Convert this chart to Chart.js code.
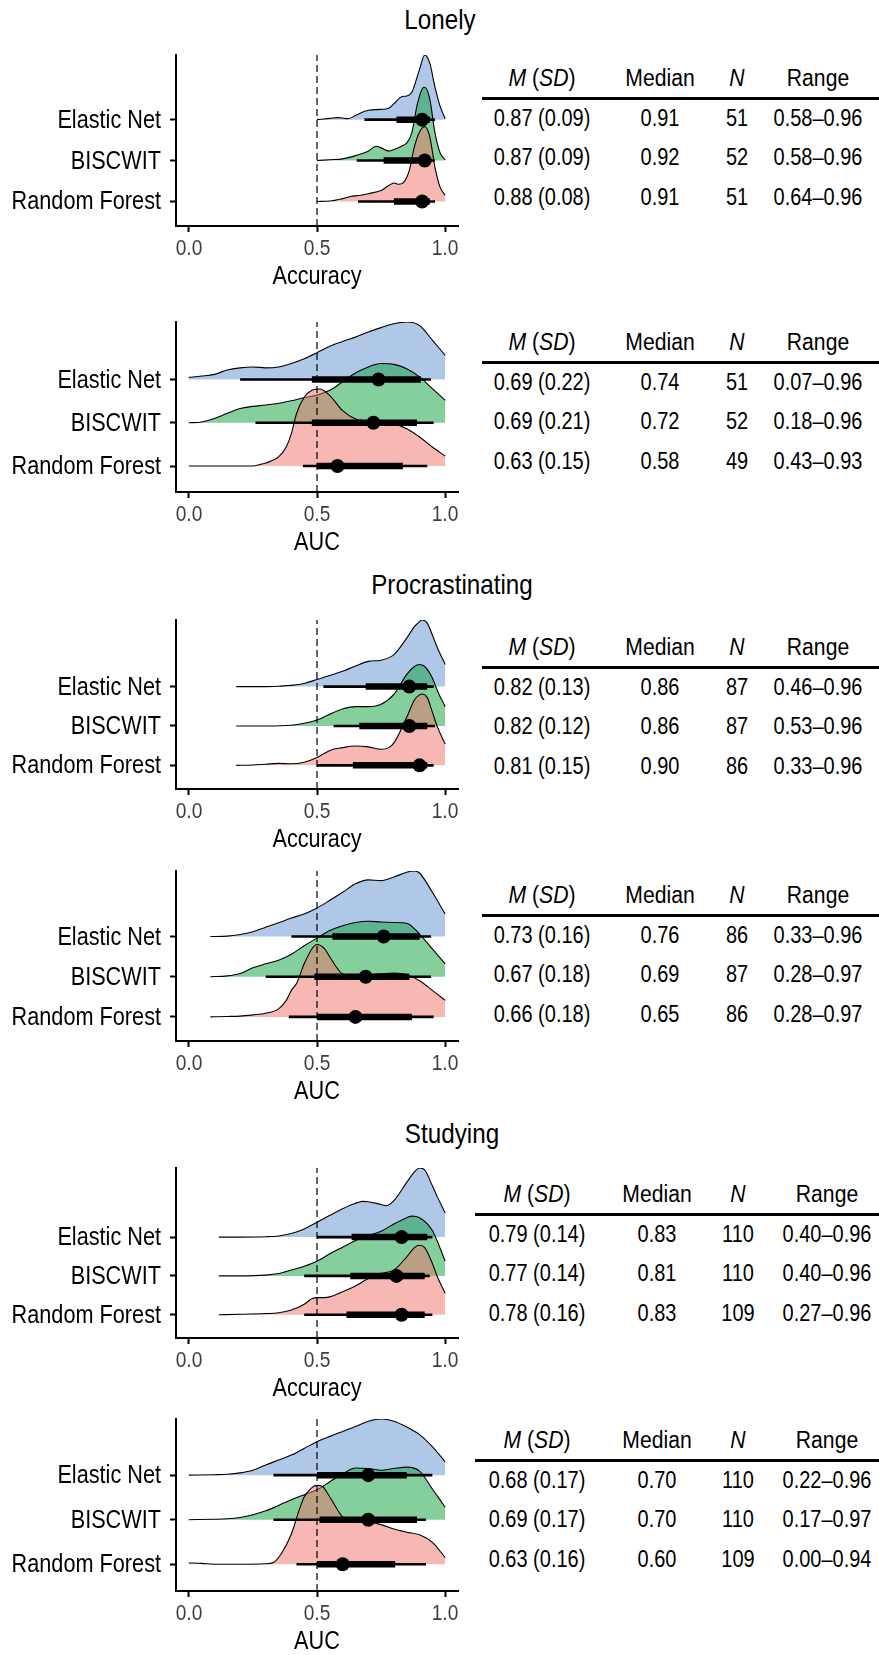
<!DOCTYPE html>
<html>
<head>
<meta charset="utf-8">
<script src="https://cdn.jsdelivr.net/npm/chart.js@4.4.1/dist/chart.umd.min.js"></script>
<style>
  html, body { margin: 0; padding: 0; background: #fff; }
  body { width: 879px; height: 1655px; position: relative; overflow: hidden;
         font-family: "Liberation Sans", Arial, sans-serif; color: #000; }
  canvas { position: absolute; left: 0; }
  /* condensed look: the figure uses a narrow Helvetica */
  .txt { position: absolute; line-height: 1; white-space: nowrap; transform: translate(-50%, -50%) scaleX(0.85); }
  .txt.right { transform-origin: right center; transform: translate(-100%, -50%) scaleX(0.85); }
  .txt.head { transform: translate(-50%, -50%) scaleX(0.9); }
  .rule { position: absolute; height: 3px; background: #000; }
</style>
</head>
<body>
<script>
// ---------------------------------------------------------------
// Data. Ridge heights are in units of one
// category step; groups are ordered Elastic Net, BISCWIT, Random Forest
// ---------------------------------------------------------------
const groupNames = ['Elastic Net', 'BISCWIT', 'Random Forest'];
const xTicks = [0, 0.5, 1];
const tableHeads = ['<i>M</i> (<i>SD</i>)', 'Median', '<i>N</i>', 'Range'];

// Lonely - Accuracy
const p1EnX  = [0.5, 0.55, 0.58, 0.6, 0.62, 0.65, 0.7, 0.75, 0.78, 0.8, 0.83, 0.85, 0.87, 0.9, 0.92, 0.94, 0.96, 0.98, 1];
const p1EnD  = [0, 0.03, 0.05, 0.04, 0.02, 0.10, 0.23, 0.25, 0.28, 0.39, 0.56, 0.58, 0.67, 1.23, 1.58, 1.38, 0.80, 0.33, 0.02];
const p1BisX = [0.5, 0.55, 0.6, 0.65, 0.7, 0.73, 0.75, 0.78, 0.8, 0.83, 0.85, 0.87, 0.89, 0.91, 0.92, 0.94, 0.96, 0.98, 1];
const p1BisD = [0, 0.02, 0.04, 0.12, 0.23, 0.35, 0.31, 0.23, 0.27, 0.35, 0.43, 0.68, 1.34, 1.75, 1.79, 1.50, 0.68, 0.19, 0.02];
const p1RfX  = [0.5, 0.55, 0.6, 0.63, 0.67, 0.7, 0.75, 0.78, 0.8, 0.82, 0.84, 0.86, 0.88, 0.9, 0.92, 0.94, 0.96, 0.98, 1];
const p1RfD  = [0, 0.01, 0.07, 0.12, 0.15, 0.19, 0.27, 0.39, 0.45, 0.42, 0.48, 0.76, 1.34, 1.70, 1.83, 1.58, 0.84, 0.35, 0.15];
const p1Median = [0.91, 0.92, 0.91];
const p1Inner  = [[0.81, 0.94], [0.76, 0.94], [0.80, 0.94]];
const p1Outer  = [[0.685, 0.96], [0.655, 0.96], [0.66, 0.96]];
const p1Msd    = ['0.87 (0.09)', '0.87 (0.09)', '0.88 (0.08)'];
const p1Med    = ['0.91', '0.92', '0.91'];
const p1N      = ['51', '52', '51'];
const p1Range  = ['0.58–0.96', '0.58–0.96', '0.64–0.96'];

// Lonely - AUC
const p2EnX  = [0, 0.05, 0.1, 0.15, 0.2, 0.25, 0.3, 0.35, 0.4, 0.45, 0.5, 0.55, 0.6, 0.65, 0.7, 0.75, 0.8, 0.85, 0.9, 0.95, 1];
const p2EnD  = [0.05, 0.08, 0.12, 0.22, 0.27, 0.29, 0.27, 0.29, 0.37, 0.48, 0.62, 0.77, 0.88, 0.98, 1.10, 1.20, 1.29, 1.33, 1.25, 0.91, 0.56];
const p2BisX = p2EnX;
const p2BisD = [0, 0.02, 0.10, 0.22, 0.33, 0.38, 0.41, 0.45, 0.51, 0.58, 0.64, 0.75, 0.95, 1.15, 1.29, 1.37, 1.35, 1.25, 1.06, 0.79, 0.52];
const p2RfX  = [0, 0.1, 0.2, 0.25, 0.28, 0.3, 0.35, 0.38, 0.4, 0.42, 0.45, 0.48, 0.51, 0.55, 0.6, 0.65, 0.7, 0.75, 0.8, 0.85, 0.9, 0.95, 1];
const p2RfD  = [0, 0, 0, 0, 0.04, 0.07, 0.21, 0.44, 0.75, 1.21, 1.59, 1.75, 1.78, 1.63, 1.28, 1.09, 1.04, 1.02, 0.98, 0.86, 0.67, 0.44, 0.23];
const p2Median = [0.74, 0.72, 0.58];
const p2Inner  = [[0.48, 0.905], [0.48, 0.89], [0.50, 0.835]];
const p2Outer  = [[0.20, 0.945], [0.26, 0.955], [0.445, 0.93]];
const p2Msd    = ['0.69 (0.22)', '0.69 (0.21)', '0.63 (0.15)'];
const p2Med    = ['0.74', '0.72', '0.58'];
const p2N      = ['51', '52', '49'];
const p2Range  = ['0.07–0.96', '0.18–0.96', '0.43–0.93'];

// Procrastinating - Accuracy
const p3EnX  = [0.185, 0.25, 0.3, 0.35, 0.4, 0.45, 0.5, 0.55, 0.6, 0.65, 0.7, 0.75, 0.8, 0.85, 0.88, 0.9, 0.91, 0.93, 0.95, 0.97, 1];
const p3EnD  = [0, 0, 0, 0.01, 0.03, 0.08, 0.18, 0.28, 0.39, 0.52, 0.64, 0.67, 0.81, 1.23, 1.52, 1.65, 1.69, 1.61, 1.31, 0.98, 0.56];
const p3BisX = [0.185, 0.3, 0.4, 0.45, 0.5, 0.55, 0.6, 0.65, 0.7, 0.75, 0.8, 0.85, 0.88, 0.9, 0.92, 0.95, 0.97, 1];
const p3BisD = [0, 0, 0.02, 0.07, 0.15, 0.30, 0.43, 0.49, 0.49, 0.55, 0.80, 1.31, 1.51, 1.56, 1.51, 1.22, 0.89, 0.49];
const p3RfX  = [0.185, 0.25, 0.3, 0.35, 0.4, 0.45, 0.5, 0.55, 0.6, 0.65, 0.7, 0.75, 0.78, 0.8, 0.85, 0.88, 0.9, 0.91, 0.93, 0.95, 0.97, 1];
const p3RfD  = [0, 0.01, 0.03, 0.05, 0.04, 0.08, 0.20, 0.38, 0.45, 0.49, 0.47, 0.41, 0.45, 0.57, 1.22, 1.66, 1.79, 1.81, 1.72, 1.35, 0.97, 0.54];
const p3Median = [0.86, 0.86, 0.90];
const p3Inner  = [[0.69, 0.93], [0.665, 0.93], [0.64, 0.93]];
const p3Outer  = [[0.525, 0.955], [0.565, 0.96], [0.50, 0.955]];
const p3Msd    = ['0.82 (0.13)', '0.82 (0.12)', '0.81 (0.15)'];
const p3Med    = ['0.86', '0.86', '0.90'];
const p3N      = ['87', '87', '86'];
const p3Range  = ['0.46–0.96', '0.53–0.96', '0.33–0.96'];

// Procrastinating - AUC
const p4EnX  = [0.084, 0.15, 0.2, 0.25, 0.3, 0.35, 0.4, 0.45, 0.5, 0.55, 0.6, 0.65, 0.7, 0.75, 0.8, 0.85, 0.88, 0.9, 0.95, 1];
const p4EnD  = [0, 0.01, 0.05, 0.12, 0.23, 0.34, 0.46, 0.56, 0.71, 0.90, 1.10, 1.31, 1.41, 1.39, 1.48, 1.60, 1.63, 1.58, 1.10, 0.56];
const p4BisX = [0.084, 0.15, 0.2, 0.25, 0.3, 0.35, 0.4, 0.45, 0.5, 0.55, 0.6, 0.65, 0.7, 0.75, 0.8, 0.85, 0.9, 0.95, 1];
const p4BisD = [0, 0.02, 0.08, 0.22, 0.32, 0.41, 0.56, 0.77, 0.96, 1.15, 1.27, 1.35, 1.38, 1.36, 1.35, 1.33, 1.06, 0.69, 0.32];
const p4RfX  = [0.084, 0.15, 0.2, 0.25, 0.3, 0.35, 0.38, 0.4, 0.42, 0.45, 0.48, 0.5, 0.53, 0.55, 0.58, 0.6, 0.65, 0.7, 0.75, 0.8, 0.85, 0.9, 0.95, 1];
const p4RfD  = [0, 0.01, 0.02, 0.05, 0.09, 0.20, 0.41, 0.66, 0.83, 1.32, 1.69, 1.80, 1.69, 1.49, 1.20, 1.07, 1.03, 1.05, 1.07, 1.09, 1.05, 0.90, 0.66, 0.41];
const p4Median = [0.76, 0.69, 0.65];
const p4Inner  = [[0.56, 0.90], [0.49, 0.86], [0.50, 0.87]];
const p4Outer  = [[0.40, 0.945], [0.30, 0.945], [0.39, 0.955]];
const p4Msd    = ['0.73 (0.16)', '0.67 (0.18)', '0.66 (0.18)'];
const p4Med    = ['0.76', '0.69', '0.65'];
const p4N      = ['86', '87', '86'];
const p4Range  = ['0.33–0.96', '0.28–0.97', '0.28–0.97'];

// Studying - Accuracy
const p5EnX  = [0.117, 0.2, 0.3, 0.35, 0.4, 0.45, 0.5, 0.55, 0.6, 0.65, 0.68, 0.7, 0.75, 0.77, 0.8, 0.85, 0.88, 0.9, 0.92, 0.95, 0.97, 1];
const p5EnD  = [0, 0, 0.01, 0.03, 0.09, 0.21, 0.38, 0.56, 0.73, 0.87, 0.92, 0.91, 0.84, 0.81, 0.94, 1.41, 1.68, 1.78, 1.73, 1.32, 1.03, 0.62];
const p5BisX = [0.117, 0.2, 0.3, 0.35, 0.4, 0.45, 0.5, 0.55, 0.6, 0.65, 0.7, 0.75, 0.8, 0.85, 0.87, 0.9, 0.95, 1];
const p5BisD = [0, 0, 0.02, 0.06, 0.15, 0.25, 0.38, 0.57, 0.74, 0.91, 1.04, 1.15, 1.34, 1.50, 1.54, 1.50, 1.17, 0.38];
const p5RfX  = [0.117, 0.2, 0.3, 0.35, 0.4, 0.45, 0.48, 0.5, 0.53, 0.55, 0.6, 0.65, 0.7, 0.75, 0.8, 0.85, 0.88, 0.9, 0.92, 0.95, 0.97, 1];
const p5RfD  = [0, 0.01, 0.03, 0.05, 0.12, 0.27, 0.41, 0.44, 0.44, 0.46, 0.59, 0.74, 0.93, 1.06, 1.15, 1.49, 1.73, 1.79, 1.73, 1.32, 0.97, 0.55];
const p5Median = [0.83, 0.81, 0.83];
const p5Inner  = [[0.635, 0.93], [0.63, 0.92], [0.615, 0.92]];
const p5Outer  = [[0.50, 0.95], [0.45, 0.94], [0.45, 0.95]];
const p5Msd    = ['0.79 (0.14)', '0.77 (0.14)', '0.78 (0.16)'];
const p5Med    = ['0.83', '0.81', '0.83'];
const p5N      = ['110', '110', '109'];
const p5Range  = ['0.40–0.96', '0.40–0.96', '0.27–0.96'];

// Studying - AUC
const p6EnX  = [0, 0.1, 0.15, 0.2, 0.25, 0.3, 0.35, 0.4, 0.45, 0.5, 0.55, 0.6, 0.65, 0.7, 0.75, 0.8, 0.85, 0.9, 0.95, 1];
const p6EnD  = [0, 0.01, 0.02, 0.05, 0.11, 0.23, 0.34, 0.45, 0.60, 0.75, 0.87, 0.98, 1.09, 1.21, 1.26, 1.21, 1.08, 0.91, 0.64, 0.30];
const p6BisX = p6EnX;
const p6BisD = [0, 0.01, 0.02, 0.05, 0.11, 0.20, 0.32, 0.45, 0.56, 0.67, 0.85, 1.03, 1.16, 1.15, 1.11, 1.15, 1.18, 1.09, 0.69, 0.28];
const p6RfX  = [0, 0.05, 0.1, 0.2, 0.3, 0.33, 0.36, 0.4, 0.43, 0.45, 0.48, 0.5, 0.52, 0.55, 0.6, 0.65, 0.7, 0.75, 0.8, 0.85, 0.9, 0.95, 1];
const p6RfD  = [0.03, 0.02, 0, 0, 0.01, 0.04, 0.23, 0.68, 1.21, 1.51, 1.72, 1.77, 1.75, 1.51, 1.06, 0.94, 0.94, 0.89, 0.79, 0.72, 0.66, 0.49, 0.15];
const p6Median = [0.70, 0.70, 0.60];
const p6Inner  = [[0.50, 0.85], [0.51, 0.89], [0.50, 0.805]];
const p6Outer  = [[0.33, 0.95], [0.33, 0.925], [0.42, 0.925]];
const p6Msd    = ['0.68 (0.17)', '0.69 (0.17)', '0.63 (0.16)'];
const p6Med    = ['0.70', '0.70', '0.60'];
const p6N      = ['110', '110', '109'];
const p6Range  = ['0.22–0.96', '0.17–0.97', '0.00–0.94'];

// ---------------------------------------------------------------
// Styling / layout
// ---------------------------------------------------------------
const FILLS = ['rgba(97,145,209,0.5)', 'rgba(11,160,60,0.5)', 'rgba(239,113,105,0.5)'];
const CANVAS_W = 470;
const PAD_TOP = 10;
const X_AXIS_H = 66;
const Y_AXIS_W = 176;
const TICK_LEN = 6;

const panels = [
  { metric: 'Accuracy', xs: [p1EnX, p1BisX, p1RfX], ds: [p1EnD, p1BisD, p1RfD], median: p1Median, inner: p1Inner, outer: p1Outer,
    table: [p1Msd, p1Med, p1N, p1Range], top: 55, bottom: 226, tableTop: 79, tableLeft: 482, cols: [542, 660, 737, 818],
    title: 'Lonely', titleX: 440, titleY: 19 },
  { metric: 'AUC', xs: [p2EnX, p2BisX, p2RfX], ds: [p2EnD, p2BisD, p2RfD], median: p2Median, inner: p2Inner, outer: p2Outer,
    table: [p2Msd, p2Med, p2N, p2Range], top: 322, bottom: 492, tableTop: 343, tableLeft: 482, cols: [542, 660, 737, 818] },
  { metric: 'Accuracy', xs: [p3EnX, p3BisX, p3RfX], ds: [p3EnD, p3BisD, p3RfD], median: p3Median, inner: p3Inner, outer: p3Outer,
    table: [p3Msd, p3Med, p3N, p3Range], top: 620, bottom: 789, tableTop: 648, tableLeft: 482, cols: [542, 660, 737, 818],
    title: 'Procrastinating', titleX: 452, titleY: 584 },
  { metric: 'AUC', xs: [p4EnX, p4BisX, p4RfX], ds: [p4EnD, p4BisD, p4RfD], median: p4Median, inner: p4Inner, outer: p4Outer,
    table: [p4Msd, p4Med, p4N, p4Range], top: 871, bottom: 1041, tableTop: 896, tableLeft: 482, cols: [542, 660, 737, 818] },
  { metric: 'Accuracy', xs: [p5EnX, p5BisX, p5RfX], ds: [p5EnD, p5BisD, p5RfD], median: p5Median, inner: p5Inner, outer: p5Outer,
    table: [p5Msd, p5Med, p5N, p5Range], top: 1168, bottom: 1338, tableTop: 1195, tableLeft: 475, cols: [537, 657, 738, 827],
    title: 'Studying', titleX: 452, titleY: 1133 },
  { metric: 'AUC', xs: [p6EnX, p6BisX, p6RfX], ds: [p6EnD, p6BisD, p6RfD], median: p6Median, inner: p6Inner, outer: p6Outer,
    table: [p6Msd, p6Med, p6N, p6Range], top: 1419, bottom: 1591, tableTop: 1441, tableLeft: 475, cols: [537, 657, 738, 827] }
];

function addText(html, x, y, size, color, cls) {
  const d = document.createElement('div');
  d.className = cls ? 'txt ' + cls : 'txt';
  d.style.left = x + 'px';
  d.style.top = y + 'px';
  d.style.fontSize = size + 'px';
  if (color) d.style.color = color;
  d.innerHTML = html;
  document.body.appendChild(d);
}

function drawTable(p) {
  tableHeads.forEach((h, c) => addText(h, p.cols[c], p.tableTop, 23.5, null, 'head'));
  const rule = document.createElement('div');
  rule.className = 'rule';
  rule.style.left = p.tableLeft + 'px';
  rule.style.width = (879 - p.tableLeft) + 'px';
  rule.style.top = (p.tableTop + 18) + 'px';
  document.body.appendChild(rule);
  p.table.forEach((col, c) => {
    col.forEach((v, r) => addText(v, p.cols[c], p.tableTop + 40 + r * 39.3, 23.5));
  });
}

function drawPanel(p) {
  const cv = document.createElement('canvas');
  const canvasTop = p.top - PAD_TOP;
  cv.width = CANVAS_W;
  cv.height = (p.bottom - p.top) + PAD_TOP + X_AXIS_H;
  cv.style.top = canvasTop + 'px';
  document.body.appendChild(cv);

  const yMax = Math.max(...p.ds.map((d, i) => 3 - i + Math.max(...d)));
  const datasets = [];

  // reference line at chance level
  datasets.push({ data: [{ x: 0.5, y: 0.4 }, { x: 0.5, y: yMax }], borderColor: '#000', borderWidth: 1.2,
                  borderDash: [7, 4], pointRadius: 0, order: 0 });

  // point intervals: thin outer, thick inner, median dot
  groupNames.forEach((g, i) => {
    const base = 3 - i;
    datasets.push({ data: [{ x: p.outer[i][0], y: base }, { x: p.outer[i][1], y: base }],
                    borderColor: '#000', borderWidth: 2.6, borderCapStyle: 'butt', pointRadius: 0, order: 0 });
    datasets.push({ data: [{ x: p.inner[i][0], y: base }, { x: p.inner[i][1], y: base }],
                    borderColor: '#000', borderWidth: 6.5, borderCapStyle: 'butt', pointRadius: 0, order: 0 });
    datasets.push({ data: [{ x: p.median[i], y: base }], showLine: false, pointRadius: 7,
                    pointBackgroundColor: '#000', pointBorderWidth: 0, order: 0 });
  });

  // density ridges, lower groups painted over upper ones
  groupNames.forEach((g, i) => {
    const base = 3 - i;
    datasets.push({
      data: p.xs[i].map((x, k) => ({ x: x, y: base + p.ds[i][k] })),
      borderColor: '#000', borderWidth: 1.1, backgroundColor: FILLS[i],
      fill: { value: base }, pointRadius: 0, cubicInterpolationMode: 'monotone', order: 3 - i + 1
    });
  });

  const gridOpts = { display: true, drawOnChartArea: false, drawTicks: true, tickLength: TICK_LEN, tickWidth: 2, tickColor: '#000' };

  const chart = new Chart(cv, {
    type: 'line',
    data: { datasets: datasets },
    options: {
      responsive: false,
      animation: false,
      devicePixelRatio: 1,
      layout: { padding: { top: PAD_TOP, right: 12, left: 0, bottom: 0 } },
      plugins: { legend: { display: false }, tooltip: { enabled: false } },
      scales: {
        x: {
          type: 'linear', min: -0.05, max: 1.05,
          afterBuildTicks: s => { s.ticks = xTicks.map(v => ({ value: v })); },
          afterFit: s => { s.height = X_AXIS_H; },
          border: { display: true, color: '#000', width: 2 },
          grid: gridOpts,
          ticks: { display: false }
        },
        y: {
          type: 'linear', min: 0.4, max: yMax,
          afterBuildTicks: s => { s.ticks = [1, 2, 3].map(v => ({ value: v })); },
          afterFit: s => { s.width = Y_AXIS_W; },
          border: { display: true, color: '#000', width: 2 },
          grid: gridOpts,
          ticks: { display: false }
        }
      }
    }
  });

  // axis text placed from the chart's own scales (HTML so it can be condensed)
  const xs = chart.scales.x, ys = chart.scales.y, area = chart.chartArea;
  xTicks.forEach(v => addText(v.toFixed(1), xs.getPixelForValue(v), canvasTop + area.bottom + 22, 22.5, '#3d3d3d'));
  addText(p.metric, (area.left + area.right) / 2, canvasTop + area.bottom + 50, 25.5, '#000');
  groupNames.forEach((g, i) => addText(g, area.left - TICK_LEN - 9, canvasTop + ys.getPixelForValue(3 - i), 25.5, '#000', 'right'));
}

panels.forEach(p => {
  if (p.title) addText(p.title, p.titleX, p.titleY, 28.5, '#000');
  drawPanel(p);
  drawTable(p);
});
</script>
</body>
</html>
